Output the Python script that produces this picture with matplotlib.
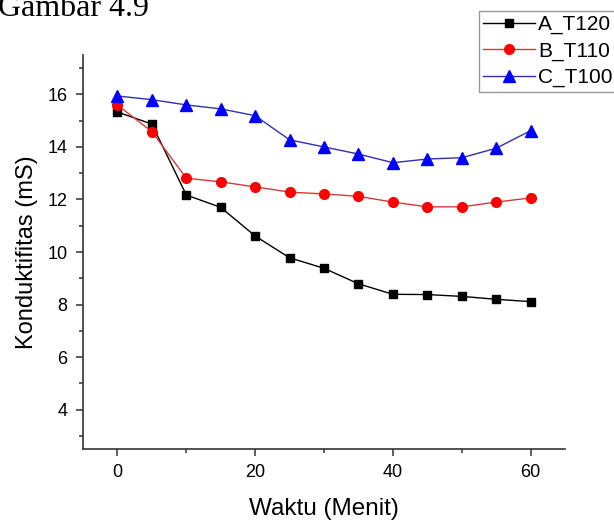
import numpy as np
import matplotlib
matplotlib.use("Agg")
import matplotlib.pyplot as plt
from matplotlib.ticker import MultipleLocator

plt.rcParams['font.family'] = ['Liberation Sans', 'DejaVu Sans']

waktu = [0, 5, 10, 15, 20, 25, 30, 35, 40, 45, 50, 55, 60]
a_t120 = [15.33, 14.87, 12.17, 11.70, 10.61, 9.78, 9.38, 8.79, 8.39, 8.38, 8.31, 8.20, 8.11]
b_t110 = [15.60, 14.58, 12.81, 12.67, 12.48, 12.28, 12.21, 12.12, 11.90, 11.72, 11.72, 11.90, 12.06]
c_t100 = [15.94, 15.80, 15.60, 15.45, 15.19, 14.27, 14.00, 13.73, 13.40, 13.54, 13.59, 13.95, 14.62]

fig = plt.figure(figsize=(6.14, 5.21), dpi=100)
ax = fig.add_axes([0.1352, 0.1382, 0.785, 0.7562])

ax.plot(waktu, a_t120, color='black', lw=1, marker='s', ms=6, label='A_T120')
ax.plot(waktu, b_t110, color='#d83838', lw=1, marker='o', ms=7, mfc='red', mec='red', label='B_T110')
ax.plot(waktu, c_t100, color='#3030b0', lw=1, marker='^', ms=8, mfc='blue', mec='blue', label='C_T100')

ax.set_xlim(-5, 65)
ax.set_ylim(2.5, 17.5)
ax.xaxis.set_major_locator(MultipleLocator(20))
ax.xaxis.set_minor_locator(MultipleLocator(10))
ax.yaxis.set_major_locator(MultipleLocator(2))
ax.yaxis.set_minor_locator(MultipleLocator(1))
ax.spines['top'].set_visible(False)
ax.spines['right'].set_visible(False)
for s in ['left', 'bottom']:
    ax.spines[s].set_linewidth(1.2)
    ax.spines[s].set_color('#333333')
ax.tick_params(which='major', direction='out', length=5, width=1.1, color='#333333',
               labelsize=13, pad=6)
ax.tick_params(which='minor', direction='out', length=3, width=1.1, color='#333333')

ax.set_xlabel('Waktu (Menit)', fontsize=17.5, labelpad=12)
ax.set_ylabel('Konduktifitas (mS)', fontsize=17, labelpad=7)

fig.legend(loc='upper left', bbox_to_anchor=(0.780, 0.979), borderaxespad=0,
           fontsize=15, fancybox=False, edgecolor='#999999', framealpha=1,
           handlelength=2.5, handletextpad=0.15, borderpad=0.2, labelspacing=0.35,
           numpoints=1)

fig.text(-0.004, 0.969, 'Gambar 4.9', family='Liberation Serif', fontsize=23, va='baseline')

fig.savefig('out.png', dpi=100)
